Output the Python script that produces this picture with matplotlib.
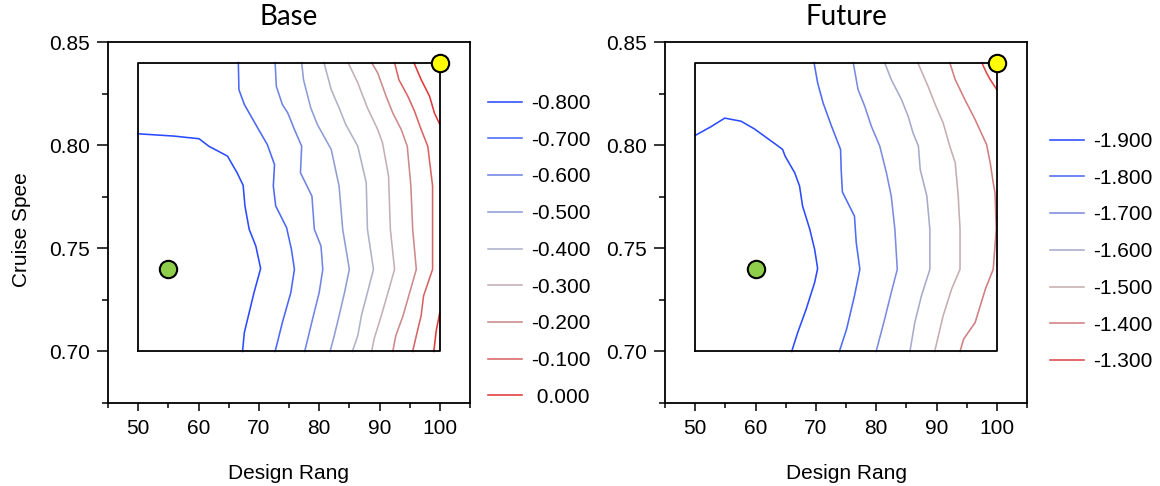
import numpy as np
import matplotlib
matplotlib.use("Agg")
import matplotlib.pyplot as plt
from matplotlib.ticker import FixedLocator

NAN = float("nan")

# ---------------- data ----------------
DOMAIN_X = [50, 100]
DOMAIN_Y = [0.70, 0.84]

base_levels = ["-0.800", "-0.700", "-0.600", "-0.500", "-0.400", "-0.300", "-0.200", "-0.100", " 0.000"]
base_colors = ["#2b4bff", "#4a68f5", "#6f84e4", "#8f9dd6", "#aeb2c8", "#c4b0b4", "#cc8a8c", "#d86464", "#e03a3a"]
base_lines = [
    [(50, 0.8055), (55.9, 0.8044), (60.1, 0.8031), (61.7, 0.7995), (64.8, 0.7947), (66.4, 0.7866), (67.4, 0.7805),
     (67.7, 0.7705), (68.4, 0.7592), (69.5, 0.7511), (70.3, 0.7402), (69.2, 0.7285), (67.6, 0.7092), (67.3, 0.70)],
    [(66.6, 0.84), (66.7, 0.8269), (67.6, 0.8197), (69.8, 0.8084), (71.4, 0.8003), (72.6, 0.7906), (72.4, 0.7802),
     (72.8, 0.7705), (74.6, 0.76), (75.4, 0.7495), (75.9, 0.7398), (75.3, 0.7285), (73.9, 0.714), (72.7, 0.70)],
    [(72.7, 0.84), (72.9, 0.8285), (73.9, 0.8197), (74.8, 0.8156), (75.9, 0.8076), (77.1, 0.7995), (76.9, 0.7866),
     (78.8, 0.7753), (79.2, 0.7592), (80.3, 0.7511), (80.6, 0.7398), (80.0, 0.7285), (78.9, 0.7156), (77.6, 0.70)],
    [(77.1, 0.84), (77.4, 0.8318), (78.6, 0.8181), (79.7, 0.81), (82.0, 0.7979), (83.3, 0.7802), (83.9, 0.7592),
     (85.0, 0.7398), (84.2, 0.7285), (83.3, 0.7173), (82.5, 0.7076), (81.8, 0.70)],
    [(80.8, 0.84), (82.0, 0.8269), (83.3, 0.8181), (84.4, 0.81), (86.4, 0.7995), (87.8, 0.7818), (88.0, 0.7592),
     (89.0, 0.7398), (88.0, 0.7285), (87.0, 0.7173), (86.4, 0.7076), (85.5, 0.70)],
    [(84.8, 0.84), (86.4, 0.8302), (88.0, 0.8181), (89.7, 0.8076), (90.5, 0.8011), (91.5, 0.7850), (91.8, 0.7592),
     (92.5, 0.7398), (91.4, 0.7285), (90.3, 0.7173), (89.1, 0.7060), (88.7, 0.70)],
    [(88.7, 0.84), (89.7, 0.835), (91.1, 0.8237), (92.2, 0.8156), (93.6, 0.8076), (94.6, 0.7995), (95.2, 0.7802),
     (95.5, 0.7592), (96.1, 0.7398), (95.0, 0.7285), (93.9, 0.7173), (92.7, 0.7076), (92.2, 0.70)],
    [(92.5, 0.84), (93.2, 0.8318), (94.7, 0.8237), (95.8, 0.8165), (96.9, 0.8076), (98.0, 0.7995), (98.8, 0.7802),
     (98.8, 0.7398), (97.3, 0.7269), (96.9, 0.7173), (96.1, 0.7076), (95.5, 0.70)],
    [(95.7, 0.84), (96.9, 0.8318), (98.3, 0.8237), (99.1, 0.8156), (100, 0.81), (NAN, NAN),
     (100, 0.7189), (99.4, 0.71), (99.0, 0.70)],
]
base_point = (55, 0.74)

future_levels = ["-1.900", "-1.800", "-1.700", "-1.600", "-1.500", "-1.400", "-1.300"]
future_colors = ["#2b4bff", "#4f6cf2", "#7b8ce0", "#a7abcb", "#c6aeb0", "#d07e80", "#df4848"]
future_lines = [
    [(50, 0.8047), (52.6, 0.8089), (54.9, 0.8131), (57.6, 0.8116), (59.8, 0.8079), (63.4, 0.8003), (64.5, 0.7979),
     (64.9, 0.7947), (66.5, 0.7866), (67.3, 0.7802), (67.8, 0.7705), (69.0, 0.7592), (69.8, 0.7495), (70.3, 0.7402),
     (69.8, 0.7334), (68.4, 0.7205), (67.0, 0.7092), (66.0, 0.70)],
    [(69.7, 0.84), (70.3, 0.8302), (71.2, 0.8205), (72.6, 0.8092), (74.1, 0.7979), (74.2, 0.7882), (74.4, 0.7773),
     (76.4, 0.7656), (76.7, 0.7527), (77.3, 0.7398), (76.4, 0.7269), (75.1, 0.7108), (73.9, 0.70)],
    [(76.2, 0.84), (77.0, 0.8269), (78.1, 0.8189), (79.2, 0.8092), (80.6, 0.7995), (81.7, 0.7866), (82.5, 0.7753),
     (83.1, 0.7592), (83.5, 0.7398), (82.5, 0.7285), (81.4, 0.7156), (80.0, 0.70)],
    [(81.4, 0.84), (82.5, 0.8318), (84.2, 0.8221), (85.3, 0.814), (86.1, 0.806), (87.0, 0.7995), (87.3, 0.7882),
     (88.4, 0.7753), (88.9, 0.7592), (88.9, 0.7398), (87.5, 0.7269), (86.4, 0.714), (85.6, 0.70)],
    [(86.9, 0.84), (88.6, 0.8285), (89.9, 0.8189), (91.1, 0.8108), (92.2, 0.7995), (93.1, 0.7915), (93.6, 0.7753),
     (93.9, 0.7592), (93.9, 0.7398), (92.5, 0.7302), (91.1, 0.7173), (89.7, 0.70)],
    [(92.2, 0.84), (93.1, 0.8318), (94.7, 0.8221), (96.4, 0.8124), (98.3, 0.8003), (98.9, 0.7915), (99.4, 0.7818),
     (99.7, 0.7769), (99.9, 0.7592), (99.4, 0.7398), (98.1, 0.7302), (96.4, 0.714), (94.5, 0.706), (93.9, 0.70)],
    [(97.5, 0.84), (98.3, 0.835), (98.9, 0.8318), (100, 0.8269)],
]
future_point = (60, 0.74)

optimum_point = (100, 0.84)

x_ticks = [50, 60, 70, 80, 90, 100]
x_minor = [45, 55, 65, 75, 85, 95, 105]
y_ticks = [0.70, 0.75, 0.80, 0.85]
y_minor = [0.675, 0.725, 0.775, 0.825]
x_label = "Design Rang"
y_label = "Cruise Spee"

# ---------------- drawing ----------------
W, H = 1160, 486
fig = plt.figure(figsize=(W / 100, H / 100), dpi=100)

tick_font = "Liberation Sans"
title_font = "Lato"
FS = 15


def make_panel(left_px, title, lines, colors, levels, point, legend_xy, show_ylabel):
    ax = fig.add_axes([left_px / W, 1 - 403 / H, 362 / W, 361 / H])
    ax.set_xlim(45, 105)
    ax.set_ylim(0.675, 0.85)
    handles = []
    for pts, c in zip(lines, colors):
        arr = np.array(pts, dtype=float)
        (h,) = ax.plot(arr[:, 0], arr[:, 1], color=c, lw=1.15, zorder=2)
        handles.append(h)
    rx = [DOMAIN_X[0], DOMAIN_X[1], DOMAIN_X[1], DOMAIN_X[0], DOMAIN_X[0]]
    ry = [DOMAIN_Y[0], DOMAIN_Y[0], DOMAIN_Y[1], DOMAIN_Y[1], DOMAIN_Y[0]]
    ax.plot(rx, ry, color="black", lw=1.3, zorder=3)
    ax.plot([point[0]], [point[1]], "o", ms=12.5, mfc="#8fce4a", mec="black", mew=1.5, zorder=5)
    ax.plot([optimum_point[0]], [optimum_point[1]], "o", ms=12.5, mfc="#ffff00", mec="black", mew=1.5,
            zorder=5, clip_on=False)

    ax.set_xticks(x_ticks)
    ax.set_yticks(y_ticks)
    ax.set_yticklabels([f"{v:.2f}" for v in y_ticks])
    ax.xaxis.set_minor_locator(FixedLocator(x_minor))
    ax.yaxis.set_minor_locator(FixedLocator(y_minor))
    ax.tick_params(axis="both", which="both", direction="out", width=1.1, color="black")
    ax.tick_params(axis="y", which="major", length=8, pad=5)
    ax.tick_params(axis="y", which="minor", length=4)
    ax.tick_params(axis="x", which="major", length=5.5, pad=6)
    ax.tick_params(axis="x", which="minor", length=3.5)
    for lab in ax.get_xticklabels() + ax.get_yticklabels():
        lab.set_fontfamily(tick_font)
        lab.set_fontsize(FS)
    for s in ax.spines.values():
        s.set_linewidth(1.3)

    ax.set_title(title, fontfamily=title_font, fontsize=20, pad=12)
    ax.set_xlabel(x_label, fontfamily=tick_font, fontsize=FS)
    ax.xaxis.set_label_coords(0.5, -0.168)
    if show_ylabel:
        ax.set_ylabel(y_label, fontfamily=tick_font, fontsize=FS)
        ax.yaxis.set_label_coords(-0.212, 0.48)

    ax.legend(handles, levels, loc="upper left",
              bbox_to_anchor=(legend_xy[0] / W, 1 - legend_xy[1] / H),
              bbox_transform=fig.transFigure, frameon=False,
              borderaxespad=0, borderpad=0, handlelength=1.65, handletextpad=0.4,
              labelspacing=0.85, prop={"family": tick_font, "size": FS})
    return ax


make_panel(108, "Base", base_lines, base_colors, base_levels, base_point, (488, 94), True)
make_panel(665, "Future", future_lines, future_colors, future_levels, future_point, (1050, 132), False)

fig.savefig("out.png", dpi=100)
